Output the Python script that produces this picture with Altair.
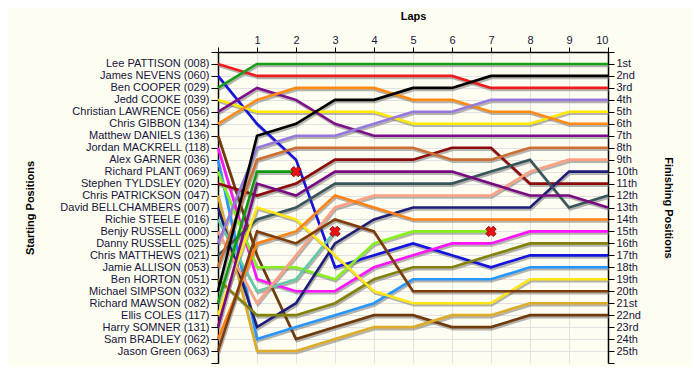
import json
import altair as alt
import pandas as pd

DRIVERS = [
    "Lee PATTISON (008)", "James NEVENS (060)", "Ben COOPER (029)", "Jedd COOKE (039)",
    "Christian LAWRENCE (056)", "Chris GIBBON (134)", "Matthew DANIELS (136)",
    "Jordan MACKRELL (118)", "Alex GARNER (036)", "Richard PLANT (069)",
    "Stephen TYLDSLEY (020)", "Chris PATRICKSON (047)", "David BELLCHAMBERS (007)",
    "Richie STEELE (016)", "Benjy RUSSELL (000)", "Danny RUSSELL (025)",
    "Chris MATTHEWS (021)", "Jamie ALLISON (053)", "Ben HORTON (051)",
    "Michael SIMPSON (032)", "Richard MAWSON (082)", "Ellis COLES (117)",
    "Harry SOMNER (131)", "Sam BRADLEY (062)", "Jason Green (063)",
]
FINISH_LABELS = [
    "1st", "2nd", "3rd", "4th", "5th", "6th", "7th", "8th", "9th", "10th",
    "11th", "12th", "13th", "14th", "15th", "16th", "17th", "18th", "19th", "20th",
    "21st", "22nd", "23rd", "24th", "25th",
]
LAPS = [0, 1, 2, 3, 4, 5, 6, 7, 8, 9, 10]

N = None
# position of each driver (in starting order) after each lap; None = retired
LAP_0 = [1, 2, 3, 4, 5, 6, 7, 8, 9, 10, 11, 12, 13, 14, 15, 16, 17, 18, 19, 20, 21, 22, 23, 24, 25]
LAP_1 = [2, 6, 1, 5, 3, 4, 17, 19, 24, 18, 12, 25, 23, 20, 21, 8, 14, 9, 22, 7, 10, 13, 11, 16, 15]
LAP_2 = [2, 9, 1, 5, 4, 3, 24, 20, 23, 18, 11, 25, 21, 19, 17, 7, 13, 8, 22, 6, 10, 14, 12, 15, 16]
LAP_3 = [2, 18, 1, 5, 6, 3, 23, 20, 22, 19, 9, 24, 16, 15, 13, 7, 11, 8, 21, 4, N, 17, 10, 12, 14]
LAP_4 = [2, 17, 1, 5, 7, 3, 22, 18, 21, 16, 9, 23, 14, N, 12, 6, 11, 8, 19, 4, N, 20, 10, 13, 15]
LAP_5 = [2, 16, 1, 6, 7, 4, 22, 17, 19, 15, 9, 23, 13, N, 12, 5, 11, 8, 18, 3, N, 21, 10, 14, 20]
LAP_6 = [2, 17, 1, 6, 7, 4, 23, 16, 19, 15, 8, 22, 13, N, 12, 5, 11, 9, 18, 3, N, 21, 10, 14, 20]
LAP_7 = [3, 18, 1, 6, 7, 5, 23, 16, 19, 15, 8, 22, 13, N, 12, 4, 10, 9, 17, 2, N, 21, 11, 14, 20]
LAP_8 = [3, 17, 1, 6, 7, 5, 22, 15, 18, N, 11, 21, 13, N, 10, 4, 9, 8, 16, 2, N, 19, 12, 14, 20]
LAP_9 = [3, 17, 1, 5, 7, 6, 22, 15, 18, N, 11, 21, 10, N, 9, 4, 13, 8, 16, 2, N, 19, 12, 14, 20]
LAP_10 = [3, 17, 1, 5, 7, 6, 22, 15, 18, N, 11, 21, 10, N, 9, 4, 12, 8, 16, 2, N, 19, 13, 14, 20]
LAP_TABLE = [LAP_0, LAP_1, LAP_2, LAP_3, LAP_4, LAP_5, LAP_6, LAP_7, LAP_8, LAP_9, LAP_10]

LINE_COLORS = [
    "#ee1c1c", "#1414dc", "#1a9e1a", "#ffea00", "#7d0f8a", "#ff8a14", "#6e3c0c",
    "#ff14ff", "#2896ff", "#86f01e", "#8c0a0a", "#dcac28", "#1e1e78", "#64c8aa",
    "#ffa082", "#9678dc", "#37555a", "#cd6e32", "#82820a", "#000000", "#0f9a0f",
    "#ffe614", "#780a82", "#ff8214", "#7d3c0a",
]

rows, retired = [], []
for i, name in enumerate(DRIVERS):
    last = None
    for lap, arr in zip(LAPS, LAP_TABLE):
        p = arr[i]
        if p is not None:
            rows.append({"driver": name, "lap": lap, "pos": p})
            last = (lap, p)
    if LAP_TABLE[-1][i] is None:
        retired.append({"driver": name, "lap": last[0], "pos": last[1]})
df = pd.DataFrame(rows)
df_ret = pd.DataFrame(retired)

BG = "#fefdf1"
LABEL = "#14143c"
FONT = "Liberation Sans"
W, H = 390, 311

xscale = alt.Scale(domain=[0, 10], nice=False, zero=False)
yscale = alt.Scale(domain=[0, 26], reverse=True, nice=False, zero=False)

x_axis = alt.Axis(
    orient="top", values=LAPS, labelExpr="datum.value == 0 ? '' : datum.label",
    title="Laps", titleFontWeight="bold", titleFontSize=11, titleFont=FONT,
    titleX=W / 2, titleY=-36, titleAlign="center", titleBaseline="middle",
    labelFont=FONT, labelFontSize=11, labelColor=LABEL, labelPadding=2,
    tickSize=5, tickColor="#000", domainColor="#000", domainWidth=1.5,
    grid=True, gridColor="#e2e2e2", gridWidth=1,
)
left_labels = json.dumps([""] + DRIVERS + [""])
y_left = alt.Axis(
    orient="left", values=list(range(27)), labelExpr=f"{left_labels}[datum.value]",
    title="Starting Positions", titleFontWeight="bold", titleFontSize=11, titleFont=FONT,
    titleX=-188, titleY=H / 2, titleAngle=-90, titleAlign="center", titleBaseline="middle",
    labelFont=FONT, labelFontSize=11, labelColor=LABEL, labelPadding=2,
    tickSize=7, tickColor="#000", domainColor="#000", domainWidth=1.5,
    grid=True, gridColor="#e2e2e2", gridWidth=1,
    gridOpacity={"condition": {"test": "datum.value == 0 || datum.value == 26", "value": 0}, "value": 1},
)
right_labels = json.dumps([""] + FINISH_LABELS + [""])
y_right = alt.Axis(
    orient="right", values=list(range(27)), labelExpr=f"{right_labels}[datum.value]",
    title="Finishing Positions", titleFontWeight="bold", titleFontSize=11, titleFont=FONT,
    titleX=59, titleY=H / 2, titleAngle=90, titleAlign="center", titleBaseline="middle",
    labelFont=FONT, labelFontSize=11, labelColor=LABEL, labelPadding=2, labelAlign="left",
    tickSize=6, tickColor="#000", domainColor="#000", domainWidth=1.5, grid=False,
)

base = alt.Chart(df)

shadow = base.mark_line(strokeWidth=2.6, color="#777777", opacity=0.55, xOffset=1, yOffset=2).encode(
    x=alt.X("lap:Q", scale=xscale, axis=x_axis),
    y=alt.Y("pos:Q", scale=yscale, axis=y_left),
    detail="driver:N",
    order=alt.Order("lap:Q"),
)

lines = base.mark_line(strokeWidth=2.6).encode(
    x=alt.X("lap:Q", scale=xscale, axis=x_axis),
    y=alt.Y("pos:Q", scale=yscale, axis=y_right),
    color=alt.Color("driver:N", scale=alt.Scale(domain=DRIVERS, range=LINE_COLORS), legend=None),
    order=alt.Order("lap:Q"),
)

crosses = alt.Chart(df_ret).mark_point(
    shape="cross", angle=45, size=110, filled=True, fill="#ee1111", stroke="#7a0000",
    strokeWidth=0.8, opacity=1,
).encode(
    x=alt.X("lap:Q", scale=xscale, axis=x_axis),
    y=alt.Y("pos:Q", scale=yscale, axis=None),
)

chart = alt.layer(shadow, lines, crosses).resolve_axis(y="independent").properties(
    width=W, height=H,
    autosize=alt.AutoSizeParams(type="none"),
    padding={"left": 210, "top": 44, "right": 84, "bottom": 4},
    background=BG,
).configure_view(stroke=None)

chart.save("out.html", embed_options={"renderer": "svg", "actions": False})
